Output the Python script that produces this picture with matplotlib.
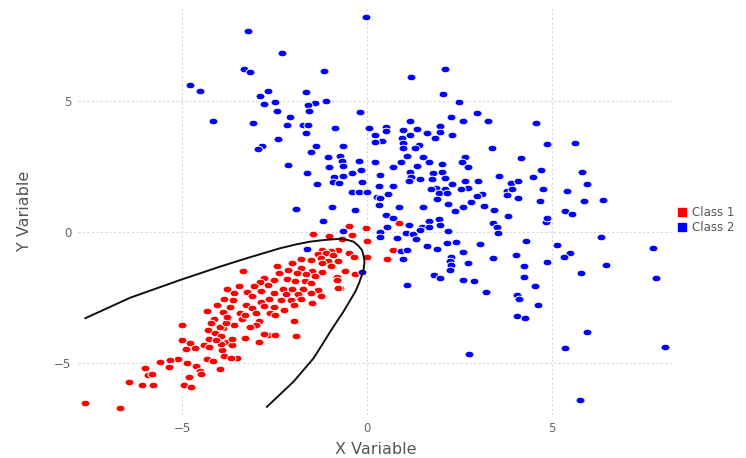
import numpy as np
import matplotlib.pyplot as plt
from matplotlib.path import Path
from matplotlib.lines import Line2D

# Class 1 (red) points
class1_x = [0.86, -0.5, -0.03, -0.41, 0.0, 0.69, 0.55, 0.01, -0.50, -0.35, -0.59, -0.34, -0.73,
            -1.46, -1.03, -0.68, -0.78, -0.99, -1.22, -1.32, -1.12, -0.93, -1.52, -1.26, -1.06, -0.79,
            -1.79, -2.04, -1.22, -0.99, -2.44, -1.78, -2.14, -1.49, -1.21, -3.35, -2.37, -1.89, -1.65,
            -1.40, -0.82, -0.82, -2.78, -2.16, -2.91, -2.51, -1.94, -1.67, -1.53, -2.68, -3.06, -3.47,
            -2.28, -2.04, -1.74, -0.79, -1.32, -3.78, -3.25, -2.87, -2.53, -2.19, -1.26, -1.53, -1.88,
            -3.59, -3.10, -2.65, -2.32, -1.78, -3.88, -3.64, -2.87, -2.07, -3.28, -2.78, -2.53, -1.97,
            -1.49, -3.70, -3.12, -2.26, -3.90, -3.43, -3.0, -2.62, -2.49, -3.79, -3.39, -2.92, -1.98,
            -3.59, -3.0, -3.90, -2.68, -2.48, -1.91, -3.30, -2.92, -3.79, -3.66,
            -4.32, -4.15, -5.01, -4.31, -4.11, -3.95, -3.66, -5.01, -4.80, -4.65, -4.91, -4.40, -4.27,
            -3.92, -3.95, -4.32, -4.17, -3.86, -3.51, -3.68, -3.99, -5.12, -5.34, -5.59, -6.0, -5.93,
            -5.82, -4.87, -4.62, -4.51, -4.49, -4.82, -4.95, -4.76, -6.45, -6.09, -5.78, -7.62, -6.67,
            -5.35, -4.06, -4.22, -3.97, -3.82, -4.27, -4.09, -3.31, -3.78, -3.16, -2.78]
class1_y = [0.33, 0.24, 0.14, -0.11, -0.34, -0.69, -1.02, -0.94, -0.79, -0.94, -1.48, -1.60, -2.15,
            -0.06, -0.16, -0.27, -0.69, -0.71, -0.70, -0.85, -0.81, -0.89, -1.07, -0.98, -1.10, -1.10,
            -1.04, -1.20, -1.20, -1.29, -1.30, -1.39, -1.45, -1.48, -1.52, -1.49, -1.55, -1.58, -1.60,
            -1.68, -1.71, -1.84, -1.76, -1.81, -1.90, -1.83, -1.88, -1.88, -1.96, -2.02, -2.06, -2.06,
            -2.16, -2.19, -2.16, -2.14, -2.21, -2.19, -2.28, -2.25, -2.32, -2.38, -2.44, -2.34, -2.35,
            -2.33, -2.44, -2.55, -2.60, -2.56, -2.57, -2.60, -2.67, -2.60, -2.77, -2.82, -2.87, -2.79,
            -2.70, -2.87, -2.90, -2.98, -3.05, -3.10, -3.10, -3.10, -3.16, -3.31, -3.31, -3.39, -3.40,
            -3.55, -3.55, -3.68, -3.93, -3.93, -3.97, -4.06, -4.21, -4.19, -4.31,
            -3.02, -3.33, -3.55, -3.74, -3.85, -3.97, -4.08, -4.12, -4.25, -4.43, -4.48, -4.31, -4.38,
            -4.50, -4.29, -4.85, -4.92, -4.72, -4.82, -4.82, -5.23, -4.86, -4.89, -4.97, -5.18, -5.47,
            -5.43, -4.99, -5.10, -5.29, -5.43, -5.53, -5.83, -5.90, -5.74, -5.85, -5.85, -6.53, -6.71,
            -5.15, -2.79, -3.49, -3.61, -3.49, -4.10, -4.12, -3.16, -3.26, -3.61, -3.89]

# Class 2 (blue) points
class2_x = [-0.03, -3.23, -2.29, -3.32, -3.16, -1.17, -4.80, -4.51, -2.69, -1.64, -2.9, -1.12, -1.41,
            -2.49, -2.80, -1.59, -1.56, -2.44, -0.19, -4.17, -3.08, -2.08, -2.17, -1.74, -1.61, 0.04,
            -0.86, -1.65, -2.41, -2.84, -2.95, -1.39, -0.64, -1.53, -1.05, -0.73, -0.67, -0.21, -2.14,
            -1.02, -0.64, -0.17, -0.41, -1.62, -0.89, -0.64, -0.91, -0.76, -0.15, -1.35, -0.41, -0.23,
            0.01, -1.93, -0.95, -0.34,
            2.10, 1.18, 2.04, 2.49, 2.98, 2.26, 2.59, 3.26, 1.16, 0.52, 0.52, 0.22, 0.97, 1.35, 1.98,
            1.98, 1.62, 2.30, 1.83, 1.17, 0.95, 0.39, 0.22, 0.98, 1.39, 1.30, 0.98, 3.37, 1.51, 1.09,
            2.65, 2.56, 1.68, 2.02, 0.69, 0.91, 0.21, 1.36, 2.72, 1.15, 1.77, 2.02, 0.35, 3.58, 1.19,
            1.43, 1.76, 2.10, 1.12, 2.66, 3.01, 2.29, 0.71, 0.32, 1.87, 1.73, 2.73, 2.12, 2.54, 3.78,
            0.56, 0.26, 1.95, 2.15, 3.11, 3.78, 2.81, 2.98, 1.90, 0.36, 0.32, 0.86, 1.51, 2.20, 2.58,
            3.15, 3.42, 2.38, 0.51, 1.95, 1.67, 3.82, 3.41, 3.50, 0.54, 1.12, 1.98, 1.49,
            4.68, 5.36, 5.53, 5.87, 6.39, 0.71, 0.35, 0.36, 0.80, 1.04, 1.25, 1.32, 1.44, 1.68, 2.18,
            2.16, 2.40, 1.61, 1.88, 2.59, 3.05, 3.55, 4.30, 4.83, 4.86, 5.14, 6.32, 7.72, 6.46, 5.49,
            5.33, 4.86, 4.04, 3.41, 2.72, 2.28, 2.23, 2.27, 2.23, 1.80, 1.97, 2.60, 2.90, 4.24, 4.25,
            4.54, 3.22, 4.05, 4.11, 4.62, 4.05, 4.26, 5.79, 7.82, 5.95, 5.35, 8.05, 2.76, 5.77, 1.09,
            0.97, 0.92, 1.07, -0.64, -0.14,
            4.58, 4.86, 5.61, 4.15, 4.71, 5.81, 4.50, 3.89, 4.07, 5.95, 3.93, 4.77, 5.41, 4.07,
            -1.20, -1.63]
class2_y = [8.2, 7.66, 6.82, 6.21, 6.11, 6.13, 5.61, 5.38, 5.36, 5.33, 5.19, 4.99, 4.92,
            4.94, 4.87, 4.85, 4.61, 4.61, 4.58, 4.24, 4.17, 4.40, 4.08, 4.07, 4.07, 3.98,
            3.96, 3.79, 3.56, 3.28, 3.16, 3.26, 3.28, 3.05, 2.86, 2.90, 2.72, 2.72, 2.55,
            2.48, 2.51, 2.35, 2.25, 2.23, 2.09, 2.14, 1.91, 1.88, 1.92, 1.82, 1.51, 1.54,
            1.53, 0.88, 0.94, 0.84,
            6.23, 5.90, 5.26, 4.96, 4.53, 4.38, 4.24, 4.24, 4.24, 4.01, 3.84, 3.70, 3.88, 3.92, 4.05,
            3.83, 3.79, 3.69, 3.58, 3.71, 3.58, 3.47, 3.44, 3.39, 3.32, 3.21, 3.21, 3.22, 2.85, 2.91,
            2.85, 2.65, 2.65, 2.58, 2.49, 2.67, 2.65, 2.53, 2.49, 2.29, 2.26, 2.30, 2.18, 2.15, 2.09,
            2.01, 2.02, 2.06, 1.95, 1.95, 1.94, 1.83, 1.77, 1.74, 1.69, 1.64, 1.68, 1.64, 1.64, 1.55,
            1.46, 1.35, 1.48, 1.50, 1.45, 1.41, 1.13, 1.37, 1.25, 1.31, 1.04, 0.94, 0.95, 1.06, 0.95,
            0.99, 0.85, 0.80, 0.65, 0.48, 0.41, 0.60, 0.36, 0.20, 0.20, 0.27, 0.27, 0.18,
            1.17, 0.79, 0.67, 1.18, 1.22, 0.52, 0.0, -0.19, -0.22, -0.03, -0.09, -0.28, 0.09, 0.20, 0.04,
            -0.43, -0.38, -0.55, -0.66, -0.75, -0.45, -0.05, -0.34, 0.39, 0.55, -0.48, -0.19, -0.61, -1.25, -0.81,
            -0.94, -1.13, -0.89, -0.99, -1.20, -0.97, -1.12, -1.26, -1.46, -1.65, -1.76, -1.83, -1.87, -1.31, -1.73,
            -2.06, -2.28, -2.40, -2.56, -2.80, -3.19, -3.27, -1.58, -1.74, -3.83, -4.44, -4.38, -4.67, -6.41, -2.01,
            -1.02, -0.74, -0.70, 0.04, -1.53,
            4.15, 3.35, 3.41, 2.81, 2.37, 2.29, 2.11, 1.87, 1.94, 1.83, 1.65, 1.64, 1.56, 1.29,
            0.42, -0.65]

# Decision boundary
boundary_x = [-7.62, -6.41, -5.05, -3.97, -3.25, -2.80, -2.35, -1.90, -1.54, -1.18, -0.73,
              -0.55, -0.37, -0.24, -0.14, -0.10, -0.07, -0.09, -0.14, -0.22, -0.32, -0.64,
              -0.82, -1.0, -1.22, -1.45, -1.99, -2.35, -2.71]
boundary_y = [-3.29, -2.51, -1.83, -1.32, -1.00, -0.81, -0.62, -0.47, -0.37, -0.31, -0.26,
              -0.30, -0.37, -0.52, -0.69, -0.88, -1.13, -1.39, -1.64, -1.96, -2.28, -3.04,
              -3.42, -3.81, -4.31, -4.82, -5.71, -6.19, -6.67]

# slightly wide ellipse marker (the original looks horizontally stretched)
circ = Path.unit_circle()
ellipse = Path(circ.vertices * np.array([1.35, 1.0]), circ.codes)

fig = plt.figure(figsize=(7.46, 4.58), dpi=100)
ax = fig.add_axes([0.105, 0.094, 0.797, 0.889])

ax.scatter(class1_x, class1_y, s=42, marker=ellipse, color='#ff0000',
           edgecolors='white', linewidths=0.7, zorder=3)
ax.scatter(class2_x, class2_y, s=42, marker=ellipse, color='#0000ff',
           edgecolors='white', linewidths=0.7, zorder=3)
ax.plot(boundary_x, boundary_y, color='#111111', lw=1.4, zorder=4,
        solid_joinstyle='round')

ax.set_xlim(-7.81, 8.27)
ax.set_ylim(-6.98, 8.55)
ax.set_xticks([-5, 0, 5])
ax.set_yticks([-5, 0, 5])
ax.grid(True, color='#d5d5e2', linestyle=(0, (2, 2)), lw=0.8)
ax.set_axisbelow(True)
for sp in ax.spines.values():
    sp.set_visible(False)
ax.tick_params(length=0, labelsize=8.5, labelcolor='#666666', pad=5)

ax.set_xlabel('X Variable', fontsize=11.5, color='#555555', labelpad=5)
ax.set_ylabel('Y Variable', fontsize=11.5, color='#555555', labelpad=16)

handles = [Line2D([], [], marker='s', ls='', color='#ff0000', markersize=6),
           Line2D([], [], marker='s', ls='', color='#0000ff', markersize=6)]
fig.legend(handles, ['Class 1', 'Class 2'], loc='center left',
           bbox_to_anchor=(0.902, 0.52), frameon=False, fontsize=8.5,
           handlelength=0.8, handletextpad=0.4, labelspacing=0.15,
           labelcolor='#555555', borderaxespad=0)

fig.savefig('out.png', dpi=100)
